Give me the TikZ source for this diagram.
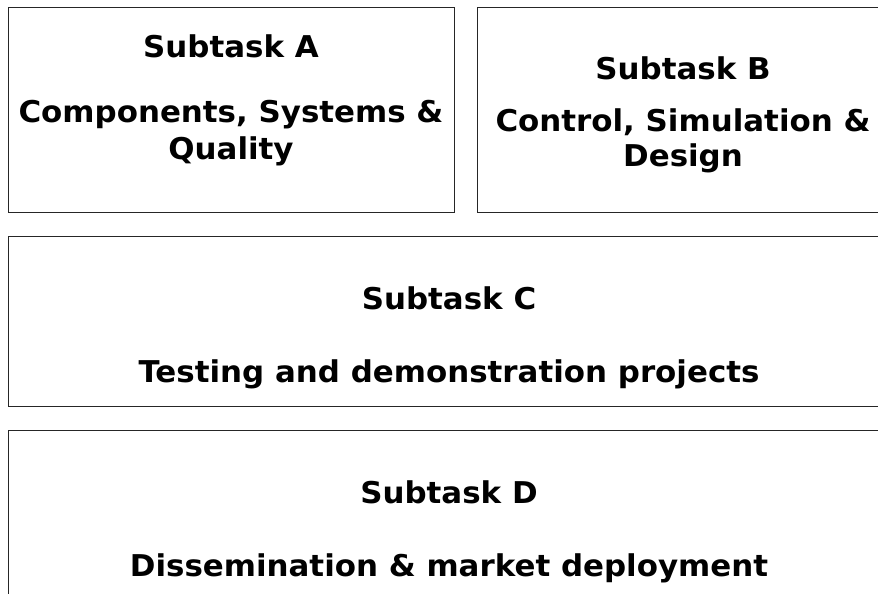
\documentclass[tikz,border=0pt]{standalone}
\usepackage{fontspec}
\setmainfont{DejaVu Sans}[FakeStretch=1.03]
\begin{document}
\begin{tikzpicture}[x=1pt,y=-1pt,
  box/.style={draw=black!85,line width=1.8pt},
  lbl/.style={font=\bfseries\fontsize{30}{36}\selectfont,anchor=center,inner sep=0pt}]
\useasboundingbox (0,0) rectangle (878,594);
\clip (0,0) rectangle (878,594);
\fill[white] (0,0) rectangle (878,594);
\draw[box] (8.5,7.5) rectangle (454.5,212.5);
\draw[box] (477.5,7.5) rectangle (900,212.5);
\draw[box] (8.5,236.5) rectangle (900,406.5);
\draw[box] (8.5,430.5) rectangle (900,620);
\node[lbl] (at1) at (231,46) {Subtask A};
\node[lbl] (at2) at (231,115) {Components, Systems \&};
\node[lbl] (at3) at (231,151) {Quality};
\node[lbl] (bt1) at (683,68) {Subtask B};
\node[lbl] (bt2) at (683,122) {Control, Simulation \&};
\node[lbl] (bt3) at (683,158) {Design};
\node[lbl] (ct1) at (449,298) {Subtask C};
\node[lbl] (ct2) at (449,374) {Testing and demonstration projects};
\node[lbl] (dt1) at (449,492) {Subtask D};
\node[lbl] (dt2) at (449,568) {Dissemination \& market deployment};
\end{tikzpicture}
\end{document}
